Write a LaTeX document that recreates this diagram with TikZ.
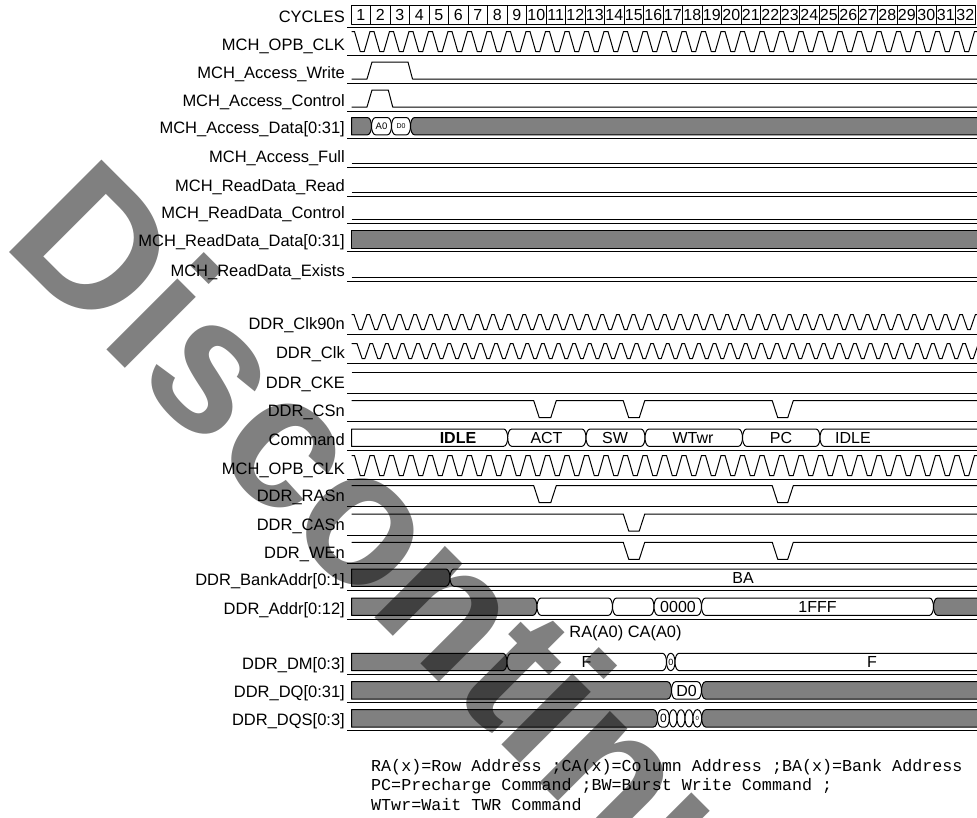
\documentclass[tikz,border=0pt]{standalone}
\usepackage{fontspec}
\setmainfont{Liberation Sans}
\setmonofont{Liberation Mono}
\definecolor{busgray}{HTML}{808080}
\definecolor{wmgray}{HTML}{808080}
\tikzset{
  sig/.style={line width=1pt, line join=round},
  sepline/.style={line width=1pt},
  lbl/.style={anchor=base east, inner sep=0pt, font=\fontsize{16.5}{18}\selectfont},
  bustxt/.style={anchor=base, inner sep=0pt, font=\fontsize{16}{18}\selectfont},
  cyctxt/.style={anchor=base, inner sep=0pt, font=\fontsize{16}{18}\selectfont},
  notetxt/.style={anchor=base west, inner sep=0pt, font=\ttfamily\fontsize{16.7}{18}\selectfont},
}
% bus segment: x1, x2, sep, fill, left curved (1/0), right curved (1/0)
\newcommand{\busseg}[6]{%
  \pgfmathsetmacro{\bT}{#3-21}%
  \pgfmathsetmacro{\bB}{#3-3.7}%
  \pgfmathsetmacro{\bM}{(\bT+\bB)/2}%
  \pgfmathsetmacro{\bc}{min(4,(#2-#1)/2)}%
  \pgfmathsetmacro{\bL}{#1+#5*\bc}%
  \pgfmathsetmacro{\bR}{#2-#6*\bc}%
  \pgfmathsetmacro{\bRc}{\bR+0.6*(#2-\bR)}%
  \pgfmathsetmacro{\bLc}{\bL-0.6*(\bL-#1)}%
  \pgfmathsetmacro{\bTm}{\bT+0.5*(\bM-\bT)}%
  \pgfmathsetmacro{\bBm}{\bB-0.5*(\bB-\bM)}%
  \filldraw[sig, fill=#4] (\bL,\bT) -- (\bR,\bT)
    .. controls (\bRc,\bT) and (#2,\bTm) .. (#2,\bM)
    .. controls (#2,\bBm) and (\bRc,\bB) .. (\bR,\bB)
    -- (\bL,\bB)
    .. controls (\bLc,\bB) and (#1,\bBm) .. (#1,\bM)
    .. controls (#1,\bTm) and (\bLc,\bT) .. cycle;
}
% row separator and label: node name, sep, label
\newcommand{\rowsep}[3]{%
  \draw[sepline] (347,#2) -- (980,#2);
  \node[lbl] (#1) at (345,{#2-5}) {#3};
}
% OPB clock: sep
\newcommand{\opbclk}[1]{%
  \pgfmathsetmacro{\cH}{#1-23.5}%
  \pgfmathsetmacro{\cL}{#1-3.5}%
  \draw[sig] (351.5,\cH) \foreach \k in {0,...,32}{
    -- ({351+19.5*\k+3.5},\cH) -- ({351+19.5*\k+9.25},\cL)
    -- ({351+19.5*\k+13.25},\cL) -- ({351+19.5*\k+19},\cH) };
}
% DDR clock: sep, first falling edge
\newcommand{\ddrclk}[2]{%
  \pgfmathsetmacro{\cH}{#1-19.5}%
  \pgfmathsetmacro{\cL}{#1-4.3}%
  \draw[sig] (351.5,\cH) \foreach \m in {0,...,40}{
    -- ({#2+15.6*\m},\cH) -- ({#2+15.6*\m+5.2},\cL)
    -- ({#2+15.6*\m+7.8},\cL) -- ({#2+15.6*\m+13},\cH) };
}
% active-low strobe with dips: sep, list of fall/rise
\newcommand{\dips}[2]{%
  \pgfmathsetmacro{\sH}{#1-21}%
  \pgfmathsetmacro{\sL}{#1-4}%
  \draw[sig] (351.5,\sH) \foreach \f/\r in {#2}{
    -- ({\f-2.75},\sH) -- ({\f+2.75},\sL) -- ({\r-2.75},\sL) -- ({\r+2.75},\sH) } -- (980,\sH);
}
\begin{document}
\begin{tikzpicture}[x=1pt,y=-1pt]
\fill[white] (0,0) rectangle (977,817);
\useasboundingbox (0,0) rectangle (977,817);

% ---------- cycles ----------
\rowsep{lcyc}{27}{CYCLES}
\foreach \k in {1,...,32}{
  \draw[sig] ({351+19.5*(\k-1)},5) rectangle ({351+19.5*\k},24);
  \node[cyctxt] (cy\k) at ({351+19.5*(\k-0.5)},20.6) {\k};
}

% ---------- MCH section ----------
\rowsep{lopb1}{55}{MCH\_OPB\_CLK}
\opbclk{55}

\rowsep{lwr}{83}{MCH\_Access\_Write}
\draw[sig] (351.5,79) -- (367,79) -- (372,62) -- (408,62) -- (412.5,79) -- (980,79);

\rowsep{lctl}{111}{MCH\_Access\_Control}
\draw[sig] (351.5,107) -- (367,107) -- (372,90) -- (388.3,90) -- (392.7,107) -- (980,107);

\rowsep{ldat}{138.5}{MCH\_Access\_Data[0:31]}
\busseg{351.5}{371.5}{138.5}{busgray}{0}{1}
\busseg{371.5}{391.5}{138.5}{white}{1}{1}
\busseg{391.5}{410.5}{138.5}{white}{1}{1}
\busseg{410.5}{990}{138.5}{busgray}{1}{0}
\node[anchor=base, inner sep=0pt, font=\fontsize{9.5}{10}\selectfont] (ta0) at (381.5,129.5) {A0};
\node[anchor=base, inner sep=0pt, font=\fontsize{7}{8}\selectfont] (td0) at (401,128.7) {D0};

\rowsep{lfull}{167.5}{MCH\_Access\_Full}
\draw[sig] (351.5,163.5) -- (980,163.5);

\rowsep{lrrd}{196}{MCH\_ReadData\_Read}
\draw[sig] (351.5,192) -- (980,192);

\rowsep{lrctl}{223.5}{MCH\_ReadData\_Control}
\draw[sig] (351.5,219.5) -- (980,219.5);

\rowsep{lrdat}{251.7}{MCH\_ReadData\_Data[0:31]}
\busseg{351.5}{990}{251.7}{busgray}{0}{0}

\rowsep{lrex}{281}{MCH\_ReadData\_Exists}
\draw[sig] (351.5,277) -- (980,277);

% ---------- DDR section ----------
\rowsep{lc90}{334}{DDR\_Clk90n}
\ddrclk{334}{354}

\rowsep{lclk}{363}{DDR\_Clk}
\ddrclk{363}{357}

\rowsep{lcke}{393}{DDR\_CKE}
\draw[sig] (351.5,372) -- (980,372);

\rowsep{lcs}{421.7}{DDR\_CSn}
\dips{421.7}{536.5/553.5, 626/642, 775/790.5}

\rowsep{lcmd}{450}{Command}
\busseg{351.5}{507.7}{450}{white}{0}{1}
\busseg{507.7}{586}{450}{white}{1}{1}
\busseg{586}{645}{450}{white}{1}{1}
\busseg{645}{742.5}{450}{white}{1}{1}
\busseg{742.5}{820}{450}{white}{1}{1}
\busseg{820}{990}{450}{white}{1}{0}
\node[bustxt, font=\fontsize{16}{18}\selectfont\bfseries] (tidle1) at (458,443.5) {IDLE};
\node[bustxt] (tact) at (546.5,443.5) {ACT};
\node[bustxt] (tsw) at (615,443.5) {SW};
\node[bustxt] (twt) at (693,443.5) {WTwr};
\node[bustxt] (tpc) at (781,443.5) {PC};
\node[bustxt] (tidle2) at (853,443.5) {IDLE};

\rowsep{lopb2}{479}{MCH\_OPB\_CLK}
\opbclk{479}

\rowsep{lras}{506.7}{DDR\_RASn}
\dips{506.7}{536.5/553.5, 775/790.5}

\rowsep{lcas}{535}{DDR\_CASn}
\dips{535}{626/642}

\rowsep{lwe}{563.3}{DDR\_WEn}
\dips{563.3}{626/642, 775/790.5}

\rowsep{lba}{590}{DDR\_BankAddr[0:1]}
\busseg{351.5}{450}{590}{busgray}{0}{1}
\busseg{450}{990}{590}{white}{1}{0}
\node[bustxt] (tba) at (743,583.5) {BA};

\rowsep{ladr}{619}{DDR\_Addr[0:12]}
\busseg{351.5}{537}{619}{busgray}{0}{1}
\busseg{537}{612.5}{619}{white}{1}{1}
\busseg{612.5}{654}{619}{white}{1}{1}
\busseg{654}{701.5}{619}{white}{1}{1}
\busseg{701.5}{933.5}{619}{white}{1}{1}
\busseg{933.5}{990}{619}{busgray}{1}{0}
\node[bustxt] (t0000) at (678,612.5) {0000};
\node[bustxt] (t1fff) at (817.5,612.5) {1FFF};
\node[anchor=base, inner sep=0pt, font=\fontsize{16.4}{18}\selectfont] (tra) at (625.5,637) {RA(A0) CA(A0)};

\rowsep{ldm}{674.3}{DDR\_DM[0:3]}
\busseg{351.5}{507}{674.3}{busgray}{0}{1}
\busseg{507}{666.5}{674.3}{white}{1}{1}
\busseg{666.5}{675}{674.3}{white}{1}{1}
\busseg{675}{990}{674.3}{white}{1}{0}
\node[bustxt] (tf1) at (586.5,667.8) {F};
\node[anchor=base, inner sep=0pt, font=\fontsize{9}{10}\selectfont] (tdm0) at (670.8,665.2) {0};
\node[bustxt] (tf2) at (872,667.8) {F};

\rowsep{ldq}{702.7}{DDR\_DQ[0:31]}
\busseg{351.5}{671.5}{702.7}{busgray}{0}{1}
\busseg{671.5}{701.5}{702.7}{white}{1}{1}
\busseg{701.5}{990}{702.7}{busgray}{1}{0}
\node[bustxt] (tdq) at (686.5,696.2) {D0};

\rowsep{ldqs}{730.7}{DDR\_DQS[0:3]}
\busseg{351.5}{657.5}{730.7}{busgray}{0}{1}
\busseg{657.5}{669.3}{730.7}{white}{1}{1}
\busseg{669.3}{677}{730.7}{white}{1}{1}
\busseg{677}{685}{730.7}{white}{1}{1}
\busseg{685}{693}{730.7}{white}{1}{1}
\busseg{693}{701.7}{730.7}{white}{1}{1}
\busseg{701.7}{990}{730.7}{busgray}{1}{0}
\node[anchor=base, inner sep=0pt, font=\fontsize{12}{13}\selectfont] (tdqs0) at (663.4,722.7) {0};
\node[anchor=base, inner sep=0pt, font=\fontsize{6}{7}\selectfont] (tdqs1) at (697.3,720.5) {0};

% ---------- notes ----------
\node[notetxt] (n1) at (371,771) {RA(x)=Row Address ;CA(x)=Column Address ;BA(x)=Bank Address};
\node[notetxt] (n2) at (371,790.5) {PC=Precharge Command ;BW=Burst Write Command ;};
\node[notetxt] (n3) at (371,810) {WTwr=Wait TWR Command};

% ---------- watermark ----------
\begin{scope}[blend mode=multiply]
\node[anchor=base west, inner sep=0pt, rotate=-45, text=wmgray,
      font=\fontsize{190}{190}\selectfont\bfseries] (wm) at (0,243) {Discontinued};
\end{scope}
\end{tikzpicture}
\end{document}
